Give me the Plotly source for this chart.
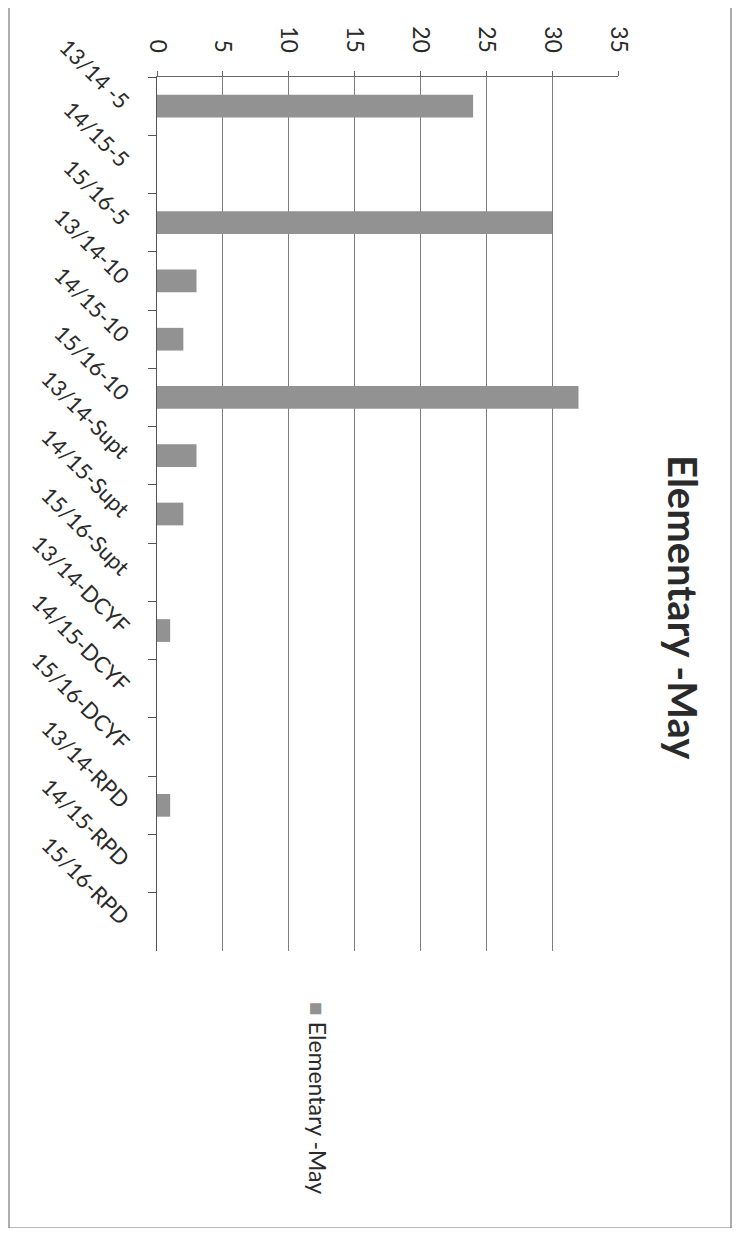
import plotly.graph_objects as go

categories = ["13/14 -5", "14/15-5", "15/16-5",
              "13/14-10", "14/15-10", "15/16-10",
              "13/14-Supt", "14/15-Supt", "15/16-Supt",
              "13/14-DCYF", "14/15-DCYF", "15/16-DCYF",
              "13/14-RPD", "14/15-RPD", "15/16-RPD"]
values = [24, 0, 30, 3, 2, 32, 3, 2, 0, 1, 0, 0, 1, 0, 0]
value_ticks = [0, 5, 10, 15, 20, 25, 30, 35]
series_name = "Elementary -May"
title_text = "Elementary -May"

OFF = 8                 # browser body margin
W, H = 728, 1220        # figure size
L, R, T, B = 157, 618, 77, 951  # plot area in page pixels
FONT = "Lato"
BAR = "#929292"
GRID = "#7d7d7d"


def px(x):
    return (x - L) / (R - L)


def py(y):
    return (B - y) / (B - T)


fig = go.Figure()
fig.add_trace(go.Bar(
    x=values, y=categories, orientation="h", name=series_name,
    marker=dict(color=BAR, line=dict(width=0)),
    showlegend=False,
))

fig.update_layout(
    width=W, height=H,
    margin=dict(l=L - OFF, r=(OFF + W) - R, t=T - OFF, b=(OFF + H) - B, pad=0),
    paper_bgcolor="white", plot_bgcolor="white",
    bargap=0.61,
    font=dict(family=FONT, color="#2a2a2a"),
    xaxis=dict(
        side="top", range=[0, 35], tickvals=value_ticks,
        tickangle=90, tickfont=dict(size=23, family=FONT, color="#2a2a2a"),
        showgrid=True, gridcolor=GRID, gridwidth=1,
        showline=True, linecolor="#666", linewidth=1,
        ticks="outside", ticklen=5, tickcolor="#666",
        zeroline=False, ticklabelstandoff=10,
    ),
    yaxis=dict(
        type="category", autorange="reversed",
        tickangle=45, tickfont=dict(size=22, family=FONT, color="#2a2a2a"),
        showgrid=False, showline=True, linecolor="#555", linewidth=1,
        ticks="outside", ticklen=8, tickcolor="#555", tickson="boundaries",
        ticklabelstandoff=24,
    ),
)

# Rotated title
fig.add_annotation(
    text="<b>" + title_text + "</b>", textangle=90,
    x=px(683), y=py(607), xref="paper", yref="paper",
    xanchor="center", yanchor="middle", showarrow=False,
    font=dict(size=40, family=FONT, color="#2a2a2a"),
)

# Rotated legend
fig.add_annotation(
    text="<span style='color:%s'>■</span> %s" % (BAR, series_name), textangle=90,
    x=px(318), y=py(1098), xref="paper", yref="paper",
    xanchor="center", yanchor="middle", showarrow=False,
    font=dict(size=23, family=FONT, color="#2a2a2a"),
)

# Outer chart border
fig.add_shape(type="rect", xref="paper", yref="paper",
              x0=px(9), x1=px(731), y0=py(1228), y1=py(7),
              line=dict(color="#777", width=1.2), layer="below")

fig.write_html("out.html")
